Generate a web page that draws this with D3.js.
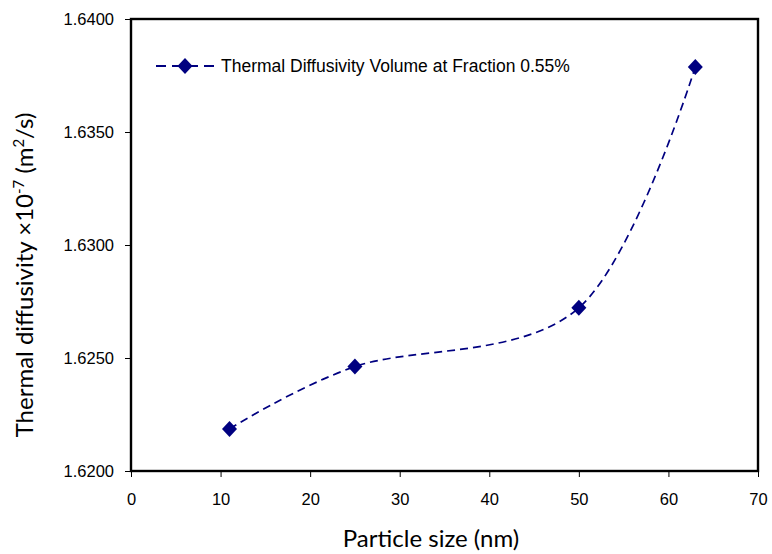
<!DOCTYPE html>
<html>
<head>
<meta charset="utf-8">
<script src="https://cdn.jsdelivr.net/npm/d3@7"></script>
<style>
  body { margin: 0; background: #fff; }
  svg text { fill: #000; }
</style>
</head>
<body>
<div id="chart"></div>
<script>
// values
const particleSize = [11, 25, 50, 63];
const diffusivity = [1.62186, 1.62462, 1.62722, 1.63788];
const xTicks = [0, 10, 20, 30, 40, 50, 60, 70];
const yTicks = [1.6200, 1.6250, 1.6300, 1.6350, 1.6400];
const seriesName = 'Thermal Diffusivity Volume at Fraction 0.55%';

const W = 772, H = 554;
const margin = { top: 19, right: 14, bottom: 83, left: 131 };
const width = W - margin.left - margin.right;
const height = H - margin.top - margin.bottom;
const navy = '#000080';
const tickFont = 'Liberation Sans, Arial, sans-serif';
const titleFont = 'Lato, sans-serif';

const svg = d3.select('#chart').append('svg')
    .attr('width', W)
    .attr('height', H);

const g = svg.append('g')
    .attr('transform', `translate(${margin.left},${margin.top})`);

const x = d3.scaleLinear().domain([0, 70]).range([0, width]);
const y = d3.scaleLinear().domain([1.62, 1.64]).range([height, 0]);

// frame
g.append('rect')
    .attr('width', width)
    .attr('height', height)
    .attr('fill', 'none')
    .attr('stroke', '#000')
    .attr('stroke-width', 2.4);

const xAxis = d3.axisBottom(x).tickValues(xTicks).tickSize(6).tickSizeOuter(0).tickPadding(16);
g.append('g')
    .attr('transform', `translate(0,${height})`)
    .call(xAxis)
    .call(a => a.select('.domain').remove())
    .call(a => a.selectAll('text').attr('font-family', tickFont).attr('font-size', 16.5));

const yAxis = d3.axisLeft(y).tickValues(yTicks).tickSize(6).tickSizeOuter(0).tickPadding(11)
    .tickFormat(d3.format('.4f'));
g.append('g')
    .call(yAxis)
    .call(a => a.select('.domain').remove())
    .call(a => a.selectAll('text').attr('font-family', tickFont).attr('font-size', 16.5));

// axis titles
g.append('text')
    .attr('x', 300)
    .attr('y', height + 76)
    .attr('text-anchor', 'middle')
    .attr('font-family', titleFont)
    .attr('font-size', 24)
    .text('Particle size (nm)');

const yTitle = g.append('text')
    .attr('transform', `translate(${-98},${256}) rotate(-90)`)
    .attr('text-anchor', 'middle')
    .attr('font-family', titleFont)
    .attr('font-size', 24);
yTitle.append('tspan').text('Thermal diffusivity \u00d710');
yTitle.append('tspan').attr('dy', -9).attr('font-size', 15).text('-7');
yTitle.append('tspan').attr('dy', 9).text(' (m');
yTitle.append('tspan').attr('dy', -9).attr('font-size', 15).text('2');
yTitle.append('tspan').attr('dy', 9).text('/s)');

// series
const data = particleSize.map((d, i) => ({ x: d, y: diffusivity[i] }));

const line = d3.line()
    .x(d => x(d.x))
    .y(d => y(d.y))
    .curve(d3.curveCatmullRom.alpha(0));

g.append('path')
    .datum(data)
    .attr('d', line)
    .attr('fill', 'none')
    .attr('stroke', navy)
    .attr('stroke-width', 1.7)
    .attr('stroke-dasharray', '8,5');

const diamond = 'M0,-8L7.5,0L0,8L-7.5,0Z';

g.selectAll('.pt')
    .data(data)
    .enter()
    .append('path')
    .attr('class', 'pt')
    .attr('transform', d => `translate(${x(d.x)},${y(d.y)})`)
    .attr('d', diamond)
    .attr('fill', navy);

// legend
const legend = g.append('g')
    .attr('transform', 'translate(25,47)');

legend.append('line')
    .attr('x1', 0)
    .attr('x2', 58)
    .attr('stroke', navy)
    .attr('stroke-width', 1.8)
    .attr('stroke-dasharray', '10,6');

legend.append('path')
    .attr('transform', 'translate(29,0)')
    .attr('d', diamond)
    .attr('fill', navy);

legend.append('text')
    .attr('x', 65)
    .attr('dy', '0.35em')
    .attr('font-family', tickFont)
    .attr('font-size', 17.5)
    .text(seriesName);
</script>
</body>
</html>
